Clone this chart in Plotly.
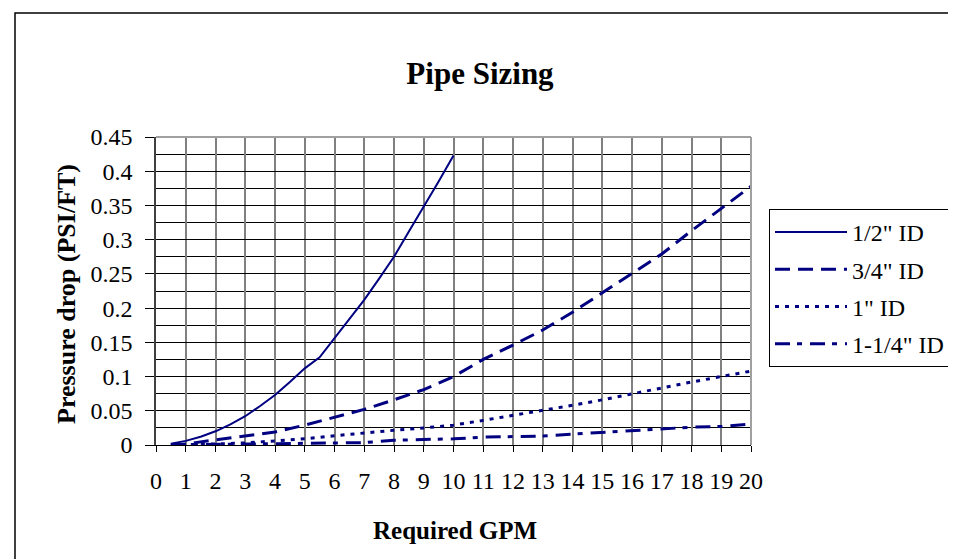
import plotly.graph_objects as go

# ---- data ----
x_half = [0.5, 1, 1.5, 2, 2.5, 3, 3.5, 4, 4.5, 5, 5.5, 6, 6.5, 7, 7.5, 8, 8.5, 9, 9.5, 10]
y_half = [0.002, 0.006, 0.012, 0.02, 0.03, 0.042, 0.057, 0.073, 0.092, 0.112, 0.128,
          0.156, 0.184, 0.212, 0.243, 0.275, 0.312, 0.348, 0.385, 0.423]

x_gpm = [0.5, 1, 2, 3, 4, 5, 6, 7, 8, 9, 10, 11, 12, 13, 14, 15, 16, 17, 18, 19, 20]
y_three_q = [0.0005, 0.0015, 0.0075, 0.0135, 0.019, 0.029, 0.040, 0.052, 0.066, 0.081,
             0.100, 0.125, 0.146, 0.168, 0.194, 0.222, 0.250, 0.279, 0.313, 0.346, 0.378]
y_one = [0.0002, 0.0005, 0.0015, 0.003, 0.006, 0.009, 0.0135, 0.018, 0.0215, 0.025,
         0.029, 0.036, 0.043, 0.051, 0.058, 0.066, 0.075, 0.083, 0.092, 0.100, 0.108]
y_one_q = [0.0001, 0.0003, 0.001, 0.0015, 0.0025, 0.003, 0.003, 0.0035, 0.007, 0.008,
           0.009, 0.0115, 0.0125, 0.013, 0.016, 0.0185, 0.021, 0.0235, 0.026, 0.027, 0.0305]

series_names = ['1/2" ID', '3/4" ID', '1" ID', '1-1/4" ID']
x_ticks = list(range(0, 21))
y_ticks = [0, 0.05, 0.1, 0.15, 0.2, 0.25, 0.3, 0.35, 0.4, 0.45]
y_tick_text = ["0", "0.05", "0.1", "0.15", "0.2", "0.25", "0.3", "0.35", "0.4", "0.45"]

NAVY = "#000080"
FONT = "Liberation Serif, Times New Roman, serif"

fig = go.Figure()
styles = [
    dict(width=2, dash="solid"),
    dict(width=3, dash="15px,8px"),
    dict(width=3, dash="4px,6px"),
    dict(width=3, dash="15px,7px,5px,8px"),
]
xs = [x_half, x_gpm, x_gpm, x_gpm]
ys = [y_half, y_three_q, y_one, y_one_q]
for i, (name, xv, yv, st) in enumerate(zip(series_names, xs, ys, styles)):
    fig.add_trace(go.Scatter(
        x=xv, y=yv, mode="lines", name=name, legendgroup=f"g{i}",
        line=dict(color=NAVY, width=st["width"], dash=st["dash"]),
    ))

W, H = 956, 559
L, R, T, B = 148, 743, 129, 437

def px_x(p):
    return (p - L) / (R - L)

def px_y(p):
    return (B - p) / (B - T)

fig.update_layout(
    width=W, height=H,
    margin=dict(l=L, r=W - R, t=T, b=H - B, autoexpand=False),
    paper_bgcolor="white", plot_bgcolor="white",
    font=dict(family=FONT, size=24, color="black"),
    title=dict(text="<b>Pipe Sizing</b>", x=472 / W, xref="container", xanchor="center",
               y=1 - 65 / H, yref="container", yanchor="middle",
               font=dict(family=FONT, size=31, color="black")),
    showlegend=True,
    legend=dict(x=px_x(761), xanchor="left", y=px_y(201), yanchor="top",
                bgcolor="white", bordercolor="black", borderwidth=1,
                font=dict(family=FONT, size=24, color="black"),
                itemwidth=72, tracegroupgap=3),
    xaxis=dict(range=[0, 20], tickmode="array", tickvals=x_ticks,
               ticktext=[str(v) for v in x_ticks],
               showgrid=True, gridcolor="#808080", gridwidth=1.5,
               zeroline=False, showline=True, linecolor="black", linewidth=1,
               ticks="outside", ticklen=6, tickcolor="black",
               ticklabelstandoff=8, mirror=False, automargin=False),
    yaxis=dict(range=[0, 0.45], tickmode="array", tickvals=y_ticks, ticktext=y_tick_text,
               showgrid=True, gridcolor="black", gridwidth=1,
               minor=dict(dtick=0.025, tick0=0, showgrid=True, gridcolor="black", gridwidth=1),
               zeroline=False, showline=True, linecolor="#404040", linewidth=1.5,
               ticks="outside", ticklen=9, tickcolor="black",
               ticklabelstandoff=8, automargin=False),
    annotations=[
        dict(text="<b>Required GPM</b>", x=px_x(447), y=px_y(522), xref="paper", yref="paper",
             showarrow=False, xanchor="center", yanchor="middle",
             font=dict(family=FONT, size=25, color="black")),
        dict(text="<b>Pressure drop (PSI/FT)</b>", x=px_x(58), y=px_y(286), xref="paper",
             yref="paper", showarrow=False, textangle=-90, xanchor="center", yanchor="middle",
             font=dict(family=FONT, size=26, color="black")),
    ],
    shapes=[
        # plot-area top and right border (gray)
        dict(type="line", xref="paper", yref="paper", x0=0, x1=1, y0=1, y1=1,
             line=dict(color="#a0a0a0", width=2)),
        dict(type="line", xref="paper", yref="paper", x0=1, x1=1, y0=0, y1=1,
             line=dict(color="#a0a0a0", width=2)),
        # outer chart border
        dict(type="rect", xref="paper", yref="paper",
             x0=px_x(7), x1=px_x(949), y0=px_y(553), y1=px_y(5),
             line=dict(color="black", width=1.5), layer="below"),
    ],
)

fig.write_html("out.html")
